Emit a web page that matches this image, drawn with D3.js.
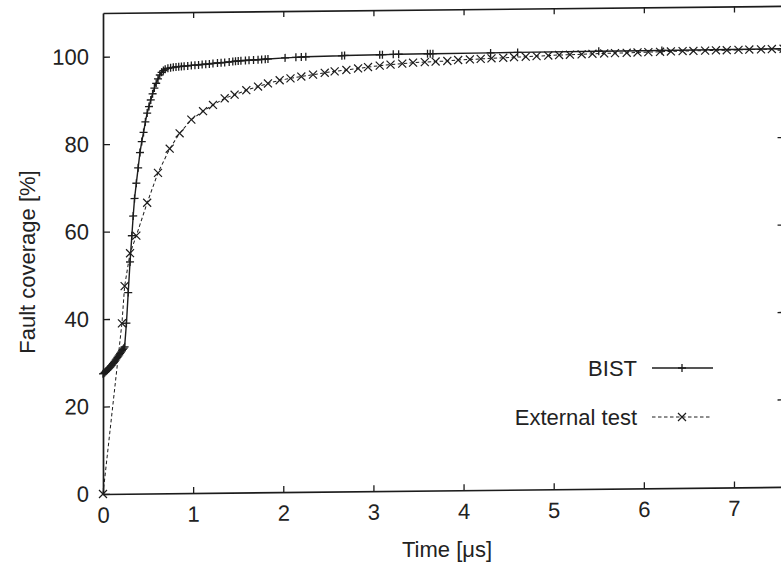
<!DOCTYPE html>
<html>
<head>
<meta charset="utf-8">
<script src="https://cdn.jsdelivr.net/npm/d3@7"></script>
<style>
  html, body { margin: 0; padding: 0; background: #fff; }
  svg { display: block; }
  text { font-family: "Liberation Sans", Arial, Helvetica, sans-serif; fill: #222; }
</style>
</head>
<body>
<svg id="chart" width="781" height="562"></svg>
<script>
// ---- data ----
const bistX = [0, 0.01, 0.02, 0.03, 0.04, 0.05, 0.06, 0.07, 0.08, 0.09, 0.10, 0.11, 0.12, 0.13, 0.14, 0.15, 0.16, 0.17, 0.18, 0.19, 0.20, 0.21, 0.22, 0.23, 0.24,
  0.26, 0.28, 0.30, 0.32, 0.335, 0.35, 0.37, 0.39, 0.41, 0.43, 0.45, 0.47, 0.49, 0.51, 0.53, 0.55, 0.57, 0.59, 0.61, 0.63, 0.65, 0.67, 0.69, 0.72, 0.75, 0.78, 0.81, 0.84, 0.87, 0.90, 0.94, 0.98,
  1.02, 1.06, 1.10, 1.14, 1.18, 1.22, 1.27, 1.31, 1.35, 1.40, 1.44, 1.47, 1.50, 1.53, 1.58, 1.62, 1.67, 1.72, 1.76, 1.80, 1.83,
  2.02, 2.14, 2.20, 2.25, 2.65, 2.68, 3.07, 3.10, 3.22, 3.28, 3.60, 3.63, 3.66, 4.30, 4.60, 5.50, 6.20, 7.55];
const bistY = [27.5, 27.6, 27.8, 28.0, 28.2, 28.4, 28.6, 28.8, 29.0, 29.3, 29.5, 29.8, 30.0, 30.3, 30.6, 30.9, 31.2, 31.5, 31.8, 32.1, 32.4, 32.7, 33.0, 33.3, 33.6,
  39, 46, 53, 59, 63.5, 67.5, 71, 74.5, 78, 80.5, 82.6, 85, 87, 88.5, 90, 91.4, 92.7, 93.8, 94.8, 95.7, 96.3, 96.7, 97.0, 97.2, 97.3, 97.4, 97.5, 97.55, 97.6, 97.65, 97.7, 97.8,
  97.85, 97.9, 98.0, 98.05, 98.1, 98.2, 98.3, 98.35, 98.4, 98.5, 98.6, 98.65, 98.7, 98.75, 98.8, 98.85, 98.9, 98.95, 99.0, 99.05, 99.1,
  99.3, 99.4, 99.45, 99.5, 99.65, 99.7, 99.8, 99.8, 99.85, 99.85, 99.9, 99.9, 99.9, 99.95, 100.0, 100.05, 100.1, 100.2];

const extX = [0, 0.21, 0.24, 0.30, 0.37, 0.49,
  0.61, 0.74, 0.85, 0.98, 1.11, 1.22, 1.35, 1.46, 1.59, 1.72, 1.83, 1.96, 2.08, 2.20, 2.33, 2.46, 2.57, 2.70, 2.83, 2.94, 3.07,
  3.19, 3.32, 3.44, 3.57, 3.69, 3.82, 3.94, 4.07, 4.19, 4.31, 4.44, 4.56, 4.69, 4.81, 4.94, 5.06, 5.18, 5.31, 5.43, 5.56, 5.68, 5.81, 5.93, 6.05, 6.18, 6.30, 6.43, 6.55, 6.68, 6.80, 6.92, 7.05, 7.17, 7.30, 7.42, 7.55];
const extY = [0, 39, 47.5, 55, 59, 66.5,
  73.3, 78.8, 82.3, 85.4, 87.3, 88.7, 90.2, 91.0, 92.0, 92.8, 93.5, 94.2, 94.6, 95.0, 95.4, 95.8, 96.1, 96.4, 96.7, 97.0, 97.3,
  97.5, 97.7, 97.9, 98.0, 98.1, 98.2, 98.4, 98.5, 98.6, 98.7, 98.8, 98.9, 99.0, 99.1, 99.2, 99.3, 99.35, 99.4, 99.5, 99.55, 99.6, 99.65, 99.7, 99.75, 99.8, 99.85, 99.9, 99.9, 99.95, 100.0, 100.0, 100.05, 100.1, 100.1, 100.15, 100.2];

const xTicks = [0, 1, 2, 3, 4, 5, 6, 7];
const yTicks = [0, 20, 40, 60, 80, 100];
const seriesNames = ["BIST", "External test"];
const xTitle = "Time [\u03bcs]";
const yTitle = "Fault coverage [%]";
const xMax = 7.55, yMax = 110;

// ---- drawing ----
const svg = d3.select("#chart");
const ink = "#1c1c1c";
const x = d3.scaleLinear().domain([0, xMax]).range([103, 103 + xMax * 90.14]);
const y = d3.scaleLinear().domain([0, yMax]).range([494, 13]);

// the scanned figure is slightly skewed
const g = svg.append("g").attr("transform", "translate(103,494) skewY(-0.6) translate(-103,-494)");

function styleAxis(sel) {
  sel.selectAll("path.domain").attr("stroke", ink).attr("stroke-width", 1.7);
  sel.selectAll(".tick line").attr("stroke", ink).attr("stroke-width", 1.3);
  sel.selectAll("text").attr("font-size", 22).attr("fill", "#222")
    .attr("font-family", '"Liberation Sans", Arial, sans-serif');
}

g.append("g").attr("transform", `translate(0,${y(0)})`)
  .call(d3.axisBottom(x).tickValues(xTicks).tickFormat(d3.format("d")).tickSizeInner(-6).tickSizeOuter(0).tickPadding(13))
  .call(styleAxis);
g.append("g").attr("transform", `translate(${x(0)},0)`)
  .call(d3.axisLeft(y).tickValues(yTicks).tickFormat(d3.format("d")).tickSizeInner(-7).tickSizeOuter(0).tickPadding(14))
  .call(styleAxis);
g.append("g").attr("transform", `translate(0,${y(yMax)})`)
  .call(d3.axisTop(x).tickValues(xTicks.slice(1)).tickFormat("").tickSizeInner(-6).tickSizeOuter(0))
  .call(styleAxis);
g.append("g").attr("transform", `translate(${x(xMax)},0)`)
  .call(d3.axisRight(y).tickValues(yTicks.slice(1)).tickFormat("").tickSizeInner(-6).tickSizeOuter(0))
  .call(styleAxis);

const bist = bistX.map((v, i) => [v, bistY[i]]);
const ext = extX.map((v, i) => [v, extY[i]]);
const line = d3.line().x(d => x(d[0])).y(d => y(d[1]));

const plus = "M-4,0H4M0,-4V4";
const cross = "M-4,-4L4,4M-4,4L4,-4";

g.append("path").datum(ext).attr("d", line).attr("fill", "none")
  .attr("stroke", ink).attr("stroke-width", 1).attr("stroke-dasharray", "3.5,2.5");
g.append("g").selectAll("path").data(ext).join("path")
  .attr("transform", d => `translate(${x(d[0])},${y(d[1])})`)
  .attr("d", cross).attr("stroke", ink).attr("stroke-width", 1.2).attr("fill", "none");

g.append("path").datum(bist).attr("d", line).attr("fill", "none")
  .attr("stroke", ink).attr("stroke-width", 1.4);
g.append("g").selectAll("path").data(bist).join("path")
  .attr("transform", d => `translate(${x(d[0])},${y(d[1])})`)
  .attr("d", plus).attr("stroke", ink).attr("stroke-width", 1.3).attr("fill", "none");

// axis titles
svg.append("text").attr("x", 447).attr("y", 557).attr("text-anchor", "middle")
  .attr("font-size", 22).text(xTitle);
svg.append("text").attr("transform", "translate(35,262) rotate(-90)").attr("text-anchor", "middle")
  .attr("font-size", 22).text(yTitle);

// legend
const legend = svg.append("g");
const legY = [368, 417];
legend.selectAll("text").data(seriesNames).join("text")
  .attr("x", 637).attr("y", (d, i) => legY[i] + 8).attr("text-anchor", "end")
  .attr("font-size", 22).text(d => d);
legend.append("line").attr("x1", 652).attr("x2", 713).attr("y1", legY[0]).attr("y2", legY[0])
  .attr("stroke", ink).attr("stroke-width", 1.4);
legend.append("path").attr("transform", `translate(682,${legY[0]})`).attr("d", plus)
  .attr("stroke", ink).attr("stroke-width", 1.3);
legend.append("line").attr("x1", 652).attr("x2", 712).attr("y1", legY[1]).attr("y2", legY[1])
  .attr("stroke", ink).attr("stroke-width", 1).attr("stroke-dasharray", "3.5,2.5");
legend.append("path").attr("transform", `translate(682,${legY[1]})`).attr("d", cross)
  .attr("stroke", ink).attr("stroke-width", 1.2);
</script>
</body>
</html>
